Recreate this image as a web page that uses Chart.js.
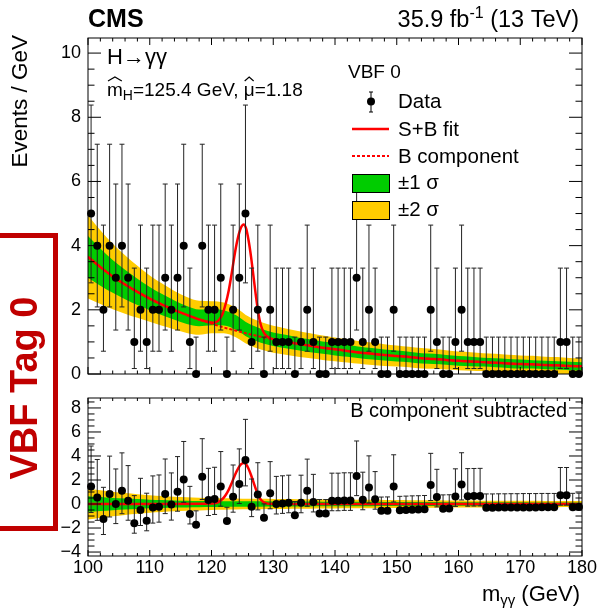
<!DOCTYPE html>
<html>
<head>
<meta charset="utf-8">
<script src="https://cdn.jsdelivr.net/npm/chart.js@4.4.1/dist/chart.umd.min.js"></script>
<style>
  html, body { margin: 0; padding: 0; background: #fff; }
  #wrap { position: relative; width: 597px; height: 608px; overflow: hidden; background: #fff; }
  #wrap canvas { position: absolute; left: 0; }
  #tagBox {
    position: absolute; left: -10px; top: 233px; width: 58px; height: 288px;
    border: 5px solid #c00000;
  }
  #tagText {
    position: absolute; left: 24px; top: 388px; transform: translate(-50%, -50%) rotate(-90deg);
    font: bold 38px "Liberation Sans", Arial, sans-serif; color: #c00000; white-space: nowrap;
  }
</style>
</head>
<body>
<div id="wrap">
  <canvas id="mainChart" width="597" height="392" style="top:0"></canvas>
  <canvas id="ratioChart" width="597" height="216" style="top:392px"></canvas>
  <div id="tagBox"></div>
  <div id="tagText">VBF Tag 0</div>
</div>
<script>
// diphoton mass bins (GeV), 1 GeV wide
const massBins = [
  100.5, 101.5, 102.5, 103.5, 104.5, 105.5, 106.5, 107.5, 108.5, 109.5,
  110.5, 111.5, 112.5, 113.5, 114.5, 115.5, 116.5, 117.5, 118.5, 119.5,
  120.5, 121.5, 122.5, 123.5, 124.5, 125.5, 126.5, 127.5, 128.5, 129.5,
  130.5, 131.5, 132.5, 133.5, 134.5, 135.5, 136.5, 137.5, 138.5, 139.5,
  140.5, 141.5, 142.5, 143.5, 144.5, 145.5, 146.5, 147.5, 148.5, 149.5,
  150.5, 151.5, 152.5, 153.5, 154.5, 155.5, 156.5, 157.5, 158.5, 159.5,
  160.5, 161.5, 162.5, 163.5, 164.5, 165.5, 166.5, 167.5, 168.5, 169.5,
  170.5, 171.5, 172.5, 173.5, 174.5, 175.5, 176.5, 177.5, 178.5, 179.5
];

// events per bin
const counts = [
  5, 4, 2, 4, 3, 4, 3, 1, 2, 1,
  2, 2, 3, 2, 3, 4, 1, 0, 4, 2,
  2, 3, 0, 2, 3, 5, 1, 2, 0, 2,
  1, 1, 1, 0, 1, 2, 1, 0, 0, 1,
  1, 1, 1, 3, 1, 2, 1, 0, 0, 2,
  0, 0, 0, 0, 0, 2, 1, 0, 0, 1,
  2, 1, 1, 1, 0, 0, 0, 0, 0, 0,
  0, 0, 0, 0, 0, 0, 1, 1, 0, 0
];

// data minus background component
const residuals = [
  1.45, 0.55, -1.25, 0.83, 0.00, 1.10, 0.28, -1.60, -0.50, -1.40,
  -0.30, -0.22, 0.83, -0.05, 1.03, 2.05, -0.83, -1.72, 2.28, 0.33,
  0.42, 1.45, -1.42, 0.61, 1.67, 3.67, -0.22, 0.80, -1.14, 0.89,
  0.00, 0.05, 0.10, -0.94, 0.10, 1.10, 0.17, -0.78, -0.78, 0.27,
  0.27, 0.30, 0.30, 2.33, 0.35, 1.37, 0.40, -0.57, -0.56, 1.46,
  -0.51, -0.49, -0.47, -0.46, -0.44, 1.58, 0.59, -0.39, -0.38, 0.63,
  1.63, 0.65, 0.66, 0.67, -0.31, -0.31, -0.30, -0.30, -0.29, -0.29,
  -0.28, -0.28, -0.28, -0.27, -0.27, -0.27, 0.74, 0.74, -0.26, -0.25
];

// Poisson intervals, indexed by event count
const poissonLo = [0, 0.83, 1.29, 1.63, 1.91, 2.16];
const poissonHi = [1.15, 2.30, 2.64, 2.92, 3.16, 3.38];

// background component and its uncertainty bands
const curveMass = [
  100, 102, 104, 106, 108, 110, 112, 114, 116, 118, 120, 122, 124, 126,
  128, 130, 132, 134, 136, 138, 140, 142, 144, 146, 148, 150, 152, 154,
  156, 158, 160, 162, 164, 166, 168, 170, 172, 174, 176, 178, 180
];
const bkgFit = [
  3.65, 3.33, 3.04, 2.79, 2.56, 2.35, 2.16, 1.99, 1.84, 1.70, 1.57, 1.45, 1.35, 1.25,
  1.16, 1.08, 1.01, 0.94, 0.88, 0.82, 0.77, 0.72, 0.67, 0.63, 0.59, 0.56, 0.53, 0.49,
  0.47, 0.44, 0.41, 0.39, 0.37, 0.35, 0.33, 0.31, 0.30, 0.28, 0.27, 0.25, 0.24
];
const band1 = [
  0.65, 0.58, 0.51, 0.46, 0.41, 0.36, 0.33, 0.30, 0.28, 0.26, 0.25, 0.24, 0.23, 0.22,
  0.22, 0.21, 0.21, 0.20, 0.20, 0.19, 0.19, 0.18, 0.18, 0.18, 0.17, 0.17, 0.16, 0.16,
  0.16, 0.15, 0.15, 0.15, 0.14, 0.14, 0.14, 0.14, 0.13, 0.13, 0.13, 0.13, 0.13
];
const band2 = [
  1.30, 1.15, 1.02, 0.91, 0.81, 0.72, 0.66, 0.60, 0.56, 0.53, 0.50, 0.48, 0.46, 0.44,
  0.43, 0.42, 0.41, 0.40, 0.39, 0.38, 0.37, 0.36, 0.35, 0.35, 0.34, 0.33, 0.32, 0.32,
  0.31, 0.30, 0.29, 0.29, 0.28, 0.28, 0.27, 0.27, 0.27, 0.26, 0.26, 0.25, 0.25
];
// upward offset of the upper-panel bands near the peak
const bandShift = [
  0, 0, 0, 0, 0, 0, 0, 0, 0, 0.05, 0.20, 0.30, 0.25, 0.10,
  0.03, 0, 0, 0, 0, 0, 0, 0, 0, 0, 0, 0, 0, 0,
  0, 0, 0, 0, 0, 0, 0, 0, 0, 0, 0, 0, 0
];

// signal + background fit
const sbMass = [
  100, 102, 104, 106, 108, 110, 112, 114, 116, 118,
  120.3, 120.8, 121.3, 121.8, 122.3, 122.8, 123.3, 123.8, 124.3, 124.8, 125.2,
  125.6, 126.0, 126.4, 126.8, 127.2, 127.6, 128.0, 128.5, 129.0, 129.5, 130.0,
  132, 134, 136, 138, 140, 142, 144, 146, 148, 150, 152, 154, 156, 158,
  160, 162, 164, 166, 168, 170, 172, 174, 176, 178, 180
];
const sbFit = [
  3.65, 3.33, 3.04, 2.79, 2.56, 2.35, 2.16, 1.99, 1.84, 1.70,
  1.60, 1.62, 1.71, 1.88, 2.19, 2.61, 3.17, 3.78, 4.26, 4.57, 4.66,
  4.54, 4.17, 3.66, 3.04, 2.42, 1.88, 1.52, 1.28, 1.17, 1.12, 1.08,
  1.01, 0.94, 0.88, 0.82, 0.77, 0.72, 0.67, 0.63, 0.59, 0.56, 0.53, 0.49, 0.47, 0.44,
  0.41, 0.39, 0.37, 0.35, 0.33, 0.31, 0.30, 0.28, 0.27, 0.25, 0.24
];

// signal only, after subtracting the background component
const sigMass = [
  100, 120.3, 120.8, 121.3, 121.8, 122.3, 122.8, 123.3, 123.8, 124.3, 124.8, 125.2,
  125.6, 126.0, 126.4, 126.8, 127.2, 127.6, 128.0, 128.5, 129.0, 129.5, 130.0, 180
];
const sigFit = [
  0, 0.05, 0.10, 0.22, 0.42, 0.75, 1.20, 1.78, 2.42, 2.95, 3.32, 3.42,
  3.30, 2.94, 2.42, 1.82, 1.22, 0.70, 0.36, 0.14, 0.05, 0.02, 0, 0
];

// axis tick labels
const xTicks = [100, 110, 120, 130, 140, 150, 160, 170, 180];
const yTicksMain = [0, 2, 4, 6, 8, 10];
const yTicksRatio = [-4, -2, 0, 2, 4, 6, 8];

const FONT = '"Liberation Sans", Arial, Helvetica, sans-serif';
const RED = '#ff0000';
const GREEN = '#00cc00';
const YELLOW = '#ffcc00';

function pts(xs, ys) {
  return xs.map((x, i) => ({ x: x, y: ys[i] }));
}

// frame with inward ticks on all four sides, ROOT style
function framePlugin(cfg) {
  return {
    id: 'frame',
    afterDraw(chart) {
      const { ctx, chartArea: a, scales: { x, y } } = chart;
      ctx.save();
      ctx.strokeStyle = '#000';
      ctx.lineWidth = 1;
      ctx.strokeRect(a.left, a.top, a.right - a.left, a.bottom - a.top);
      ctx.beginPath();
      for (let v = x.min; v <= x.max + 1e-6; v += cfg.xMinor) {
        const major = Math.abs(v / cfg.xMajor - Math.round(v / cfg.xMajor)) < 1e-6;
        const len = major ? cfg.xMajorLen : cfg.xMajorLen / 2;
        const px = x.getPixelForValue(v);
        ctx.moveTo(px, a.bottom); ctx.lineTo(px, a.bottom - len);
        ctx.moveTo(px, a.top); ctx.lineTo(px, a.top + len);
      }
      const start = Math.ceil(y.min / cfg.yMinor) * cfg.yMinor;
      for (let v = start; v <= y.max + 1e-6; v += cfg.yMinor) {
        const major = Math.abs(v / cfg.yMajor - Math.round(v / cfg.yMajor)) < 1e-6;
        const len = major ? cfg.yMajorLen : cfg.yMajorLen / 2;
        const py = y.getPixelForValue(v);
        ctx.moveTo(a.left, py); ctx.lineTo(a.left + len, py);
        ctx.moveTo(a.right, py); ctx.lineTo(a.right - len, py);
      }
      ctx.stroke();
      ctx.restore();
    }
  };
}

// vertical error bars drawn just before the data markers
function errorBarPlugin(centers) {
  return {
    id: 'errorBars',
    beforeDatasetDraw(chart, args) {
      if (args.index !== 0) return;
      const { ctx, scales: { x, y } } = chart;
      ctx.save();
      ctx.strokeStyle = '#222';
      ctx.lineWidth = 1;
      ctx.beginPath();
      massBins.forEach((m, i) => {
        const n = counts[i];
        const px = x.getPixelForValue(m);
        const lo = y.getPixelForValue(centers[i] - poissonLo[n]);
        const hi = y.getPixelForValue(centers[i] + poissonHi[n]);
        ctx.moveTo(px, lo); ctx.lineTo(px, hi);
        ctx.moveTo(px - 2.5, hi); ctx.lineTo(px + 2.5, hi);
        if (n > 0) { ctx.moveTo(px - 2.5, lo); ctx.lineTo(px + 2.5, lo); }
      });
      ctx.stroke();
      ctx.restore();
    }
  };
}

function drawHat(ctx, x0, w, yTop) {
  ctx.beginPath();
  ctx.moveTo(x0 + 1, yTop);
  ctx.lineTo(x0 + w / 2, yTop - 4);
  ctx.lineTo(x0 + w - 1, yTop);
  ctx.lineWidth = 1.2;
  ctx.strokeStyle = '#000';
  ctx.stroke();
}

const mainText = {
  id: 'mainText',
  afterDraw(chart) {
    const ctx = chart.ctx;
    ctx.save();
    ctx.fillStyle = '#000';
    ctx.textBaseline = 'alphabetic';

    // header
    ctx.font = 'bold 25px ' + FONT;
    ctx.textAlign = 'left';
    ctx.fillText('CMS', 88, 27);

    ctx.font = '23.5px ' + FONT;
    const tail = ' (13 TeV)';
    const wTail = ctx.measureText(tail).width;
    ctx.font = '16px ' + FONT;
    const wSup = ctx.measureText('-1').width;
    ctx.font = '23.5px ' + FONT;
    const head = '35.9 fb';
    const wHead = ctx.measureText(head).width;
    let xr = 579 - wTail - wSup - wHead;
    ctx.fillText(head, xr, 27);
    ctx.font = '16px ' + FONT;
    ctx.fillText('-1', xr + wHead, 18);
    ctx.font = '23.5px ' + FONT;
    ctx.fillText(tail, xr + wHead + wSup, 27);

    // y axis title
    ctx.save();
    ctx.translate(27, 35);
    ctx.rotate(-Math.PI / 2);
    ctx.font = '22.5px ' + FONT;
    ctx.textAlign = 'right';
    ctx.fillText('Events / GeV', 0, 0);
    ctx.restore();

    // process and fit result
    ctx.font = '22px ' + FONT;
    ctx.fillText('H\u2192\u03b3\u03b3', 107, 64);
    let xp = 107;
    const by = 96;
    ctx.font = '19px ' + FONT;
    ctx.fillText('m', xp, by);
    const wm = ctx.measureText('m').width;
    drawHat(ctx, xp, wm, by - 15);
    xp += wm;
    ctx.font = '14px ' + FONT;
    ctx.fillText('H', xp, by + 4);
    xp += ctx.measureText('H').width;
    ctx.font = '19px ' + FONT;
    const mid = '=125.4 GeV, ';
    ctx.fillText(mid, xp, by);
    xp += ctx.measureText(mid).width;
    ctx.fillText('\u03bc', xp, by);
    const wmu = ctx.measureText('\u03bc').width;
    drawHat(ctx, xp, wmu, by - 15);
    xp += wmu;
    ctx.fillText('=1.18', xp, by);

    // legend
    ctx.font = '19px ' + FONT;
    ctx.fillText('VBF 0', 348, 78);
    ctx.font = '20.5px ' + FONT;
    ctx.fillText('Data', 398, 108);
    ctx.fillText('S+B fit', 398, 136);
    ctx.fillText('B component', 398, 163);
    ctx.fillText('\u00b11 \u03c3', 398, 189);
    ctx.fillText('\u00b12 \u03c3', 398, 216);

    ctx.strokeStyle = '#000';
    ctx.lineWidth = 1;
    ctx.beginPath();
    ctx.moveTo(371, 92); ctx.lineTo(371, 112);
    ctx.moveTo(369, 92); ctx.lineTo(373, 92);
    ctx.moveTo(369, 112); ctx.lineTo(373, 112);
    ctx.stroke();
    ctx.beginPath();
    ctx.arc(371, 101.5, 4, 0, Math.PI * 2);
    ctx.fill();

    ctx.strokeStyle = RED;
    ctx.lineWidth = 2.5;
    ctx.beginPath();
    ctx.moveTo(352, 129); ctx.lineTo(389, 129);
    ctx.stroke();
    ctx.setLineDash([3, 2]);
    ctx.lineWidth = 2;
    ctx.beginPath();
    ctx.moveTo(352, 156); ctx.lineTo(389, 156);
    ctx.stroke();
    ctx.setLineDash([]);

    ctx.lineWidth = 1;
    ctx.strokeStyle = '#000';
    ctx.fillStyle = GREEN;
    ctx.fillRect(352, 174, 37, 18);
    ctx.strokeRect(352.5, 174.5, 37, 18);
    ctx.fillStyle = YELLOW;
    ctx.fillRect(352, 201, 37, 18);
    ctx.strokeRect(352.5, 201.5, 37, 18);
    ctx.restore();
  }
};

const ratioText = {
  id: 'ratioText',
  afterDraw(chart) {
    const ctx = chart.ctx;
    ctx.save();
    ctx.fillStyle = '#000';
    ctx.font = '20px ' + FONT;
    ctx.textAlign = 'right';
    ctx.fillText('B component subtracted', 567, 25);

    // x axis title
    ctx.textAlign = 'left';
    ctx.font = '22px ' + FONT;
    const unit = ' (GeV)';
    const wUnit = ctx.measureText(unit).width;
    ctx.font = '15px ' + FONT;
    const wSub = ctx.measureText('\u03b3\u03b3').width;
    ctx.font = '22px ' + FONT;
    const wM = ctx.measureText('m').width;
    let x0 = 580 - wUnit - wSub - wM;
    ctx.fillText('m', x0, 209);
    ctx.font = '15px ' + FONT;
    ctx.fillText('\u03b3\u03b3', x0 + wM, 213);
    ctx.font = '22px ' + FONT;
    ctx.fillText(unit, x0 + wM + wSub, 209);
    ctx.restore();
  }
};

function lineSet(data, extra) {
  return Object.assign({
    data: data, showLine: true, pointRadius: 0, borderWidth: 0,
    fill: false, tension: 0, clip: 0
  }, extra);
}

function axes(yMin, yMax, yTicks, xHeight, showX) {
  return {
    x: {
      type: 'linear', min: 100, max: 180,
      afterBuildTicks: s => { s.ticks = xTicks.map(v => ({ value: v })); },
      ticks: { display: showX, color: '#000', font: { family: FONT, size: 18 }, padding: 1, maxRotation: 0 },
      grid: { display: false, drawTicks: false },
      border: { display: false },
      afterFit: s => { s.height = xHeight; s.paddingLeft = 0; s.paddingRight = 0; }
    },
    y: {
      min: yMin, max: yMax,
      afterBuildTicks: s => { s.ticks = yTicks.map(v => ({ value: v })); },
      ticks: {
        color: '#000', font: { family: FONT, size: 18 }, padding: 7,
        callback: v => (v < 0 ? '\u2212' + Math.abs(v) : String(v))
      },
      grid: { display: false, drawTicks: false },
      border: { display: false },
      afterFit: s => { s.width = 88; s.paddingTop = 0; s.paddingBottom = 0; }
    }
  };
}

const commonOpts = {
  responsive: false, animation: false, devicePixelRatio: 1,
  plugins: { legend: { display: false }, tooltip: { enabled: false } },
  elements: { line: { cubicInterpolationMode: 'monotone' } }
};

const bandCenter = bkgFit.map((b, i) => b + bandShift[i]);

// upper panel: data with S+B fit and background bands
new Chart(document.getElementById('mainChart'), {
  type: 'line',
  data: {
    datasets: [
      { data: pts(massBins, counts), showLine: false, pointRadius: 4, pointBackgroundColor: '#000', pointBorderWidth: 0, clip: false, order: 0 },
      lineSet(pts(sbMass, sbFit), { borderColor: RED, borderWidth: 2.5, order: 1 }),
      lineSet(pts(curveMass, bkgFit), { borderColor: RED, borderWidth: 2, borderDash: [3, 2], order: 2 }),
      lineSet(pts(curveMass, bandCenter.map((b, i) => b + band1[i])), { fill: 4, backgroundColor: GREEN, order: 3 }),
      lineSet(pts(curveMass, bandCenter.map((b, i) => b - band1[i])), { order: 4 }),
      lineSet(pts(curveMass, bandCenter.map((b, i) => b + band2[i])), { fill: 6, backgroundColor: YELLOW, order: 5 }),
      lineSet(pts(curveMass, bandCenter.map((b, i) => b - band2[i])), { order: 6 })
    ]
  },
  options: Object.assign({}, commonOpts, {
    layout: { padding: { top: 38, right: 15, left: 0, bottom: 0 } },
    scales: axes(0, 10.47, yTicksMain, 18, false)
  }),
  plugins: [
    errorBarPlugin(counts),
    framePlugin({ xMinor: 2, xMajor: 10, xMajorLen: 7, yMinor: 0.5, yMajor: 2, yMajorLen: 13 }),
    mainText
  ]
});

// lower panel: background-subtracted data
new Chart(document.getElementById('ratioChart'), {
  type: 'line',
  data: {
    datasets: [
      { data: pts(massBins, residuals), showLine: false, pointRadius: 4, pointBackgroundColor: '#000', pointBorderWidth: 0, clip: false, order: 0 },
      lineSet(pts(sigMass, sigFit), { borderColor: RED, borderWidth: 2.5, order: 1 }),
      lineSet(pts(curveMass, band1), { fill: 3, backgroundColor: GREEN, order: 3 }),
      lineSet(pts(curveMass, band1.map(v => -v)), { order: 4 }),
      lineSet(pts(curveMass, band2), { fill: 5, backgroundColor: YELLOW, order: 5 }),
      lineSet(pts(curveMass, band2.map(v => -v)), { order: 6 })
    ]
  },
  options: Object.assign({}, commonOpts, {
    layout: { padding: { top: 6, right: 15, left: 0, bottom: 0 } },
    scales: axes(-4.33, 8.83, yTicksRatio, 52, true)
  }),
  plugins: [
    errorBarPlugin(residuals),
    framePlugin({ xMinor: 2, xMajor: 10, xMajorLen: 6, yMinor: 0.5, yMajor: 2, yMajorLen: 13 }),
    ratioText
  ]
});
</script>
</body>
</html>
